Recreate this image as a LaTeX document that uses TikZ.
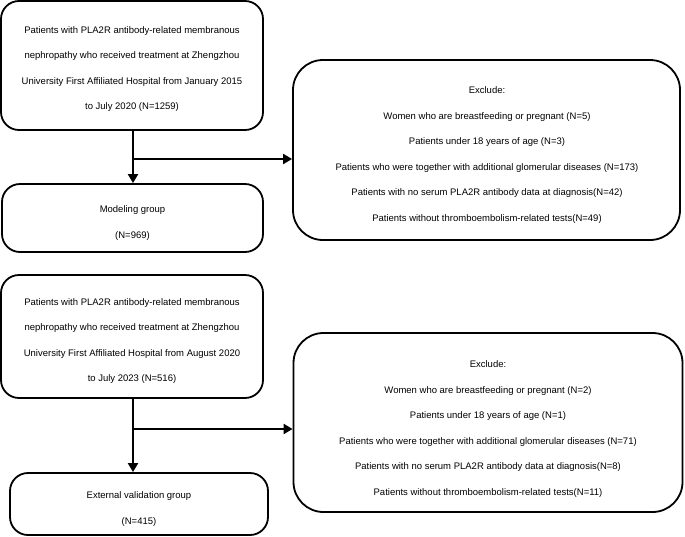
\documentclass[tikz,border=0pt]{standalone}
\usepackage{fontspec}
\setmainfont{Liberation Sans}
\usetikzlibrary{arrows.meta,calc}
\begin{document}
\begin{tikzpicture}[x=1pt,y=-1pt,
  box/.style={draw=black,line width=1.8pt,rounded corners=18pt,inner sep=0pt},
  exbox/.style={box,rounded corners=30pt},
  txt/.style={align=center,inner sep=0pt,font=\fontsize{9.5}{25.6}\selectfont},
  arr/.style={draw=black,line width=2pt,-{Triangle[length=9pt,width=10pt]}}]
\useasboundingbox (0,0) rectangle (685,536);
\node[box,minimum width=262pt,minimum height=129pt] (b1) at (132,65.5) {};
\node[txt] (b1t) at (132,69)
 {Patients with PLA2R antibody-related membranous\\nephropathy who received treatment at Zhengzhou\\University First Affiliated Hospital from January 2015\\to July 2020 (N=1259)};
\node[box,minimum width=261pt,minimum height=68pt] (b2) at (132.5,218) {};
\node[txt] (b2t) at (132.5,223) {Modeling group\\(N=969)};
\node[exbox,minimum width=387pt,minimum height=180pt] (e1) at (486.5,150) {};
\node[txt] (e1t) at (487,155)
 {Exclude:\\Women who are breastfeeding or pregnant (N=5)\\Patients under 18 years of age (N=3)\\Patients who were together with additional glomerular diseases (N=173)\\Patients with no serum PLA2R antibody data at diagnosis(N=42)\\Patients without thromboembolism-related tests(N=49)};
\node[box,minimum width=262pt,minimum height=123pt] (b3) at (132,336.5) {};
\node[txt] (b3t) at (132,341)
 {Patients with PLA2R antibody-related membranous\\nephropathy who received treatment at Zhengzhou\\University First Affiliated Hospital from August 2020\\to July 2023 (N=516)};
\node[box,minimum width=258pt,minimum height=62pt] (b4) at (139,504) {};
\node[txt] (b4t) at (139,509) {External validation group\\(N=415)};
\node[exbox,minimum width=389pt,minimum height=179pt] (e2) at (488,422.5) {};
\node[txt] (e2t) at (488,429)
 {Exclude:\\Women who are breastfeeding or pregnant (N=2)\\Patients under 18 years of age (N=1)\\Patients who were together with additional glomerular diseases (N=71)\\Patients with no serum PLA2R antibody data at diagnosis(N=8)\\Patients without thromboembolism-related tests(N=11)};
\coordinate (t1) at (133,130);
\coordinate (j1) at (133,159);
\draw[arr] (t1) -- (t1 |- b2.north);
\draw[arr] (j1) -- (j1 -| e1.west);
\coordinate (t2) at (133,398);
\coordinate (j2) at (133,429);
\draw[arr] (t2) -- (t2 |- b4.north);
\draw[arr] (j2) -- (j2 -| e2.west);
\end{tikzpicture}
\end{document}
